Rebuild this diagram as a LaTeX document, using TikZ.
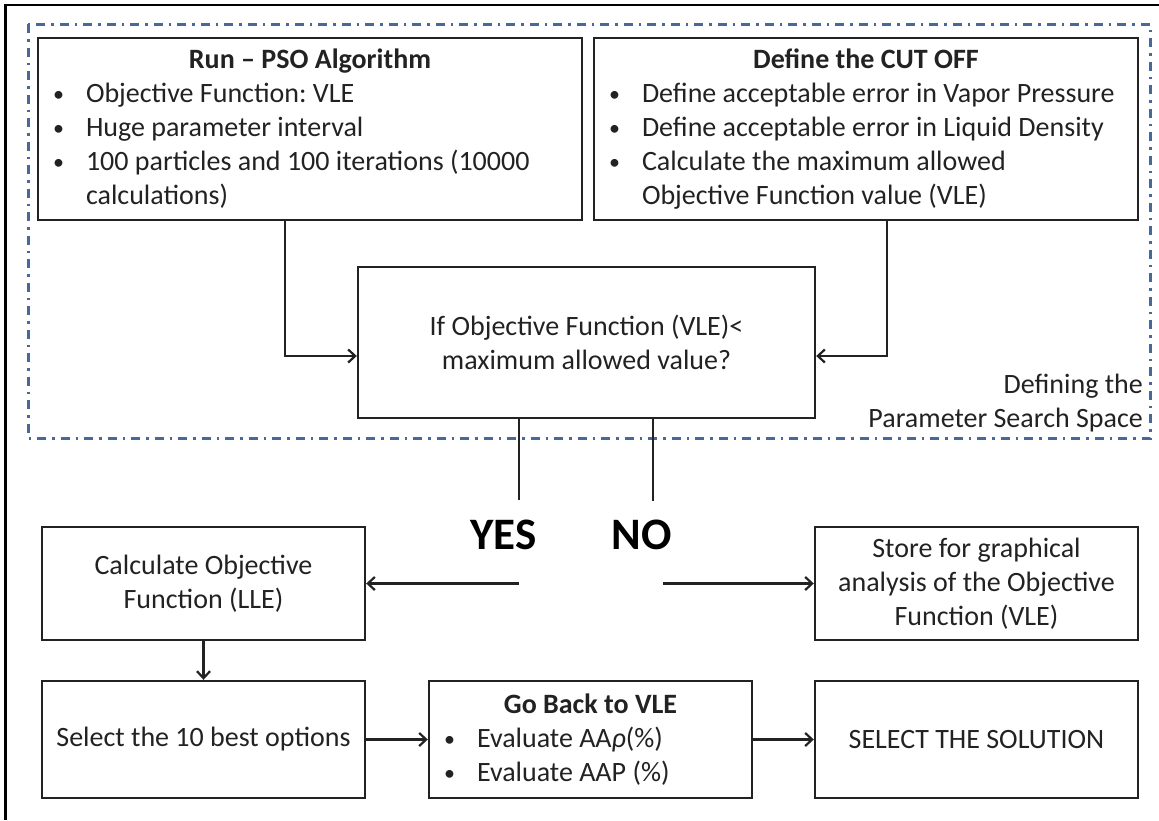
\documentclass[tikz,border=0pt]{standalone}
\usepackage{fontspec}
\setmainfont{Carlito}
\usetikzlibrary{arrows.meta,calc}
\definecolor{ink}{HTML}{222222}
\definecolor{frameblue}{HTML}{46699A}
\newcommand\bul[1]{\hbox to \hsize{\hbox to 48pt{\hskip 15pt\raisebox{1pt}{\fontsize{22}{22}\selectfont•}\hfil}#1\hfil}}
\newcommand\cont[1]{\hbox to \hsize{\hskip 48pt #1\hfil}}
\newcommand\ttl[1]{\hbox to \hsize{\hfil\bfseries #1\hfil}}
\newcommand\lst[2]{\vbox{\hsize=#1\relax #2}}
\begin{document}
\begin{tikzpicture}[x=1pt,y=-1pt,
  box/.style={draw=ink, line width=2.4pt, rectangle, inner sep=0pt, text=ink,
    font=\fontsize{28}{34}\selectfont\frenchspacing},
  arr/.style={draw=ink, line width=2.2pt, -{Straight Barb[length=7pt,width=13pt,line width=2.2pt]}},
  conn/.style={draw=ink, line width=2.2pt},
  big/.style={font=\fontsize{45}{54}\selectfont\bfseries, text=black, inner sep=0pt},
  ]
\useasboundingbox (0,0) rectangle (1159,820);
% outer frame (left and top edges)
\draw[black, line width=2.8pt] (5.5,820) -- (5.5,5) -- (1159,5);
% blue dash-dot frame
\draw[frameblue, line width=3pt, dash pattern=on 9pt off 6pt on 2.5pt off 6pt]
  (28,24) rectangle (1150,438);

\node[box, minimum width=544pt, minimum height=182pt] (pso) at (310,129)
 {\lst{544pt}{\ttl{Run – PSO Algorithm}%
  \bul{Objective Function: VLE}%
  \bul{Huge parameter interval}%
  \bul{100 particles and 100 iterations (10000}%
  \cont{calculations)}}};
\node[box, minimum width=544pt, minimum height=182pt] (cut) at (866,129)
 {\lst{544pt}{\ttl{Define the CUT OFF}%
  \bul{Define acceptable error in Vapor Pressure}%
  \bul{Define acceptable error in Liquid Density}%
  \bul{Calculate the maximum allowed}%
  \cont{Objective Function value (VLE)}}};

\node[box, align=center, minimum width=457pt, minimum height=151pt] (dec) at (586.5,342.5)
 {If Objective Function (VLE)<\\maximum allowed value?};

\node[font=\fontsize{28}{34}\selectfont, text=ink, align=right, anchor=south east, inner sep=0pt]
  (lbl) at (1143,432) {Defining the\\Parameter Search Space};

\node[box, align=center, minimum width=323pt, minimum height=113pt] (calc) at (203.5,583.5)
 {Calculate Objective\\Function (LLE)};
\node[box, align=center, minimum width=323pt, minimum height=113pt] (store) at (976.5,583.5)
 {Store for graphical\\analysis of the Objective\\Function (VLE)};
\node[box, align=center, minimum width=323pt, minimum height=117pt] (sel) at (203.5,739.5)
 {Select the 10 best options};
\node[box, minimum width=323pt, minimum height=117pt] (back) at (590.5,739.5)
 {\lst{323pt}{\ttl{Go Back to VLE}%
  \bul{Evaluate AA{\itshape ρ}(\%)}%
  \bul{Evaluate AAP (\%)}}};
\node[box, align=center, minimum width=323pt, minimum height=117pt] (sol) at (976.5,739.5)
 {SELECT THE SOLUTION};

\node[big] (yes) at (503.5,535) {YES};
\node[big] (no) at (642,535) {NO};

% connectors
\draw[arr] ([xshift=-25pt]pso.south) |- ([yshift=-13.5pt]dec.west);
\draw[arr] ([xshift=21pt]cut.south) |- ([yshift=-13.5pt]dec.east);
\coordinate (yend) at (519,500);
\coordinate (nend) at (653,501);
\draw[conn] (dec.south -| yend) -- (yend);
\draw[conn] (dec.south -| nend) -- (nend);
\coordinate (ystart) at (519,583.5);
\coordinate (nstart) at (663,583.5);
\draw[arr] (ystart) -- (calc.east);
\draw[arr] (nstart) -- (store.west);
\draw[arr] (calc.south) -- (sel.north);
\draw[arr] (sel.east) -- (back.west);
\draw[arr] (back.east) -- (sol.west);
\end{tikzpicture}
\end{document}
